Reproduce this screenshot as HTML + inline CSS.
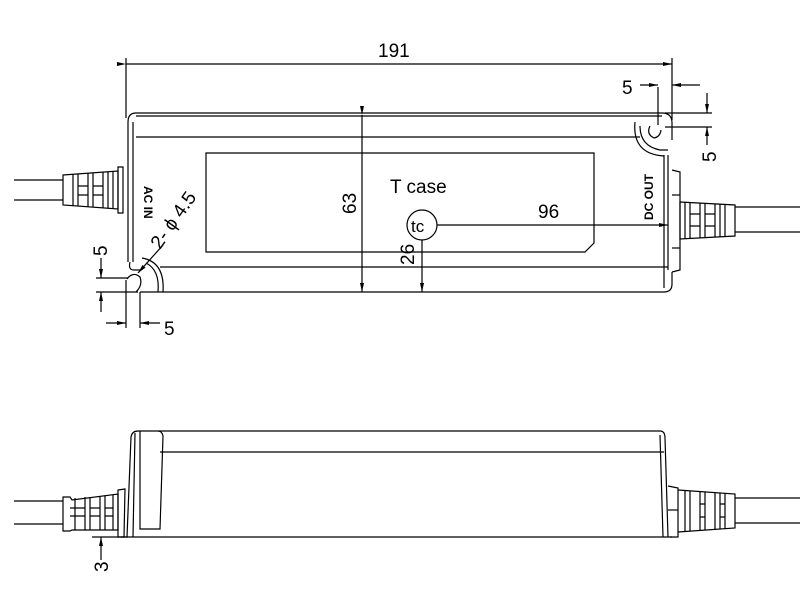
<!DOCTYPE html>
<html><head><meta charset="utf-8"><style>
html,body{margin:0;padding:0;background:#fff;}
svg{display:block;font-family:"Liberation Sans",sans-serif;}
</style></head><body>
<svg width="800" height="600" viewBox="0 0 800 600" xmlns="http://www.w3.org/2000/svg">
<defs>
<marker id="a" markerWidth="10" markerHeight="6" refX="9" refY="3" orient="auto" markerUnits="userSpaceOnUse"><path d="M0,1 L9,3 L0,5 z" fill="#000"/></marker>
</defs>
<g stroke="#000" stroke-width="1.2" fill="none">
<line x1="126" y1="64" x2="672" y2="64" marker-start="url(#a)" marker-end="url(#a)"/>
<line x1="126" y1="58" x2="126" y2="118"/>
<line x1="672" y1="58" x2="672" y2="120"/>
<path d="M136,113 L662,113 Q672,113 672,123 L672,140"/>
<line x1="136" y1="116" x2="662" y2="116"/>
<path d="M136,113 Q128,113 128,122 L128,262"/>
<line x1="133" y1="122" x2="133" y2="262"/>
<line x1="136" y1="137" x2="640" y2="137"/>
<line x1="160" y1="267" x2="668" y2="267"/>
<line x1="140" y1="292" x2="664" y2="292"/>
<path d="M664,292 Q672,292 672,284 L672,272"/>
<line x1="664" y1="155" x2="664" y2="288"/>
<line x1="668" y1="155" x2="668" y2="270"/>
<path d="M640,126 Q640,146 660,150 L668,150"/>
<path d="M635,122 Q632,154 664,156"/>
<path d="M650,126 Q646,134 654,138 Q660,137 661,130"/>
<path d="M130,262 Q128,270 134,270 L140,270"/>
<path d="M142,258 Q165,262 163,292"/>
<path d="M146,263 Q160,270 158,292"/>
<path d="M127,279 Q133,271 140,277 Q143,285 136,292"/>
<path d="M206,153 L594,153 L594,243 L585,252 L206,252 Z"/>
<line x1="362" y1="115" x2="362" y2="292" marker-start="url(#a)" marker-end="url(#a)"/>
<circle cx="422" cy="225" r="15"/>
<line x1="437" y1="225" x2="668" y2="225" marker-end="url(#a)"/>
<line x1="422" y1="240" x2="422" y2="292" marker-end="url(#a)"/>
<line x1="658" y1="87" x2="658" y2="125"/>
<line x1="640" y1="85" x2="658" y2="85" marker-end="url(#a)"/>
<line x1="700" y1="85" x2="672" y2="85" marker-end="url(#a)"/>
<line x1="665" y1="113" x2="712" y2="113"/>
<line x1="665" y1="127" x2="712" y2="127"/>
<line x1="707" y1="93" x2="707" y2="113" marker-end="url(#a)"/>
<line x1="707" y1="145" x2="707" y2="127" marker-end="url(#a)"/>
<line x1="96" y1="278" x2="128" y2="278"/>
<line x1="96" y1="292" x2="138" y2="292"/>
<line x1="101" y1="258" x2="101" y2="278" marker-end="url(#a)"/>
<line x1="101" y1="312" x2="101" y2="292" marker-end="url(#a)"/>
<line x1="126" y1="280" x2="126" y2="328"/>
<line x1="140" y1="292" x2="140" y2="328"/>
<line x1="106" y1="323" x2="126" y2="323" marker-end="url(#a)"/>
<line x1="160" y1="323" x2="140" y2="323" marker-end="url(#a)"/>
<line x1="163" y1="245" x2="138" y2="273" marker-end="url(#a)"/>
<line x1="14" y1="180" x2="63" y2="180"/>
<line x1="14" y1="200" x2="63" y2="200"/>
<path d="M63,175 L118,171 L118,209 L63,205 Z"/>
<path d="M73,174 V206 M78,174 V206 M88,173 V207 M93,173 V207 M103,172 V208 M108,172 V208 M113,172 V208 M78,186 H88 M78,195 H88 M93,186 H103 M93,195 H103"/>
<path d="M118,167 L123,167 L123,213 L118,213 Z"/>
<line x1="735" y1="207" x2="800" y2="207"/>
<line x1="735" y1="232" x2="800" y2="232"/>
<path d="M680,202 L735,205 L735,236 L680,239 Z"/>
<path d="M685,202 V239 M690,202 V239 M700,203 V238 M705,203 V238 M715,204 V237 M720,204 V237 M725,204 V237 M690,214 H700 M690,226 H700 M705,214 H715 M705,226 H715"/>
<path d="M672,170 L680,172 L680,270 L672,272"/>
<line x1="672" y1="195" x2="680" y2="195"/><line x1="672" y1="248" x2="680" y2="248"/>

<path d="M127,537 L131,437 Q132,431 138,431 L660,431 Q665,431 665,438 L668,537"/>
<line x1="121" y1="537" x2="672" y2="537"/>
<line x1="160" y1="452" x2="664" y2="452"/>
<line x1="135" y1="433" x2="133" y2="537"/>
<path d="M140,431 L140,529 L160,529 L163,436 Q162,431 158,431"/>
<line x1="660" y1="435" x2="663" y2="537"/>
<line x1="14" y1="501" x2="63" y2="501"/>
<line x1="14" y1="524" x2="63" y2="524"/>
<path d="M63,497 L70,497 L72,500 L118,494 L118,530 L72,530 L70,531 L63,531 Z"/>
<path d="M75,498 V530 M85,497 V530 M90,497 V530 M100,496 V530 M105,496 V530 M113,495 V530 M70,508 H85 M70,516 H85 M90,508 H100 M90,516 H100 M105,508 H113 M105,516 H113"/>
<path d="M118,490 L125,489 L124,537 L118,537 Z"/>
<line x1="92" y1="537" x2="128" y2="537"/>
<line x1="101" y1="560" x2="101" y2="537" marker-end="url(#a)"/>
<line x1="735" y1="498" x2="800" y2="498"/>
<line x1="735" y1="523" x2="800" y2="523"/>
<path d="M678,490 L735,494 L735,528 L678,532"/>
<path d="M685,491 V531 M690,491 V531 M700,492 V530 M705,492 V530 M715,493 V529 M720,493 V529 M725,493 V529 M700,504 H705 M700,517 H705 M720,504 H725 M720,517 H725"/>
<path d="M668,486 L678,488 L678,537 L670,537"/>
<line x1="668" y1="510" x2="678" y2="510"/>
</g>
<g fill="#000" font-size="19">
<text x="378" y="57">191</text>
<text x="390" y="193">T case</text>
<text x="538" y="218">96</text>
<text x="622" y="94">5</text>
<text x="164" y="335">5</text>
<text transform="translate(356,214) rotate(-90)">63</text>
<text transform="translate(414,265) rotate(-90)">26</text>
<text transform="translate(716,162) rotate(-90)">5</text>
<text transform="translate(107,256) rotate(-90)">5</text>
<text transform="translate(108,572) rotate(-90)">3</text>
<text transform="translate(160,250) rotate(-55)">2- ϕ 4.5</text>
<text x="411" y="232" font-size="17">tc</text>
</g>
<g fill="#000" font-size="12" font-weight="bold">
<text transform="translate(144,186) rotate(90)">AC IN</text>
<text transform="translate(653,220) rotate(-90)">DC OUT</text>
</g>
</svg>
</body></html>
